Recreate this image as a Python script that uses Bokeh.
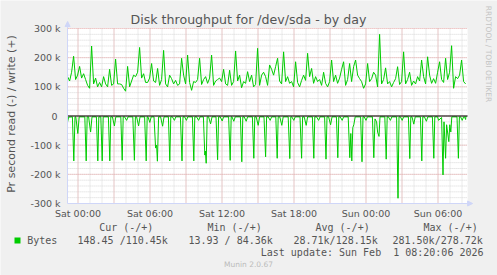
from bokeh.plotting import figure
from bokeh.models import Range1d, FixedTicker, Label, Arrow, NormalHead, BoxAnnotation
from bokeh.embed import file_html
from bokeh.resources import INLINE

# Time axis: minutes since Fri 2026-01-30 23:08 (graph window = 2000 min)
X_START, X_END = 0, 2000

# write (+) series, kB/s, one reading every 10 minutes
write_k = [
    135, 120, 150, 205, 125, 140, 170, 130, 145, 125, 105, 95, 240, 110, 130, 100, 115, 100, 135, 110,
    100, 160, 105, 110, 195, 110, 110, 108, 95, 85, 170, 100, 120, 140, 135, 150, 235, 130, 145, 115,
    115, 130, 180, 120, 115, 163, 105, 125, 225, 110, 100, 140, 128, 110, 122, 105, 110, 198, 140, 110,
    209, 115, 88, 118, 115, 125, 198, 108, 125, 135, 112, 130, 209, 105, 120, 125, 130, 118, 160, 110,
    105, 157, 105, 118, 223, 120, 140, 97, 118, 112, 152, 118, 140, 100, 108, 232, 105, 140, 150, 135,
    105, 175, 160, 140, 169, 198, 120, 110, 220, 118, 135, 112, 118, 100, 186, 115, 100, 122, 140, 122,
    215, 135, 163, 112, 135, 118, 125, 105, 150, 112, 100, 118, 192, 118, 140, 112, 130, 160, 186, 105,
    125, 180, 118, 169, 192, 140, 128, 118, 95, 110, 180, 118, 128, 150, 140, 100, 280, 110, 125, 165,
    110, 118, 100, 115, 128, 169, 108, 118, 220, 110, 125, 150, 105, 120, 110, 135, 120, 192, 135, 110,
    203, 140, 112, 128, 112, 150, 186, 125, 115, 198, 125, 150, 241, 95, 135, 128, 140, 192, 118, 110,
]
write_min = [10 * i for i in range(len(write_k))]

# read (-) series, kB/s (drawn negative), irregular readings
read_min = [
    0, 5, 24, 31, 37, 41, 51, 58, 86, 93, 98, 105, 115, 122, 144, 151, 156, 166, 173, 178,
    204, 211, 216, 224, 234, 241, 266, 273, 278, 285, 295, 302, 326, 334, 339, 345, 355, 362,
    385, 393, 398, 402, 411, 418, 432, 440, 445, 449, 455, 465, 475, 482, 504, 511, 516, 524,
    534, 541, 564, 572, 577, 585, 594, 601, 624, 631, 636, 645, 655, 662, 679, 686, 689, 693,
    698, 705, 715, 722, 742, 750, 755, 763, 773, 780, 805, 813, 818, 822, 831, 838, 864, 871,
    876, 883, 893, 900, 924, 931, 936, 943, 953, 960, 982, 990, 995, 1003, 1013, 1020, 1041,
    1048, 1053, 1061, 1071, 1078, 1103, 1111, 1116, 1121, 1131, 1138, 1162, 1170, 1175, 1183,
    1193, 1200, 1224, 1231, 1236, 1245, 1255, 1262, 1285, 1292, 1297, 1305, 1315, 1322, 1344,
    1351, 1356, 1363, 1373, 1380, 1403, 1411, 1416, 1421, 1426, 1431, 1438, 1465, 1472, 1477,
    1483, 1492, 1499, 1524, 1531, 1537, 1545, 1550, 1557, 1562, 1586, 1593, 1598, 1604, 1614,
    1621, 1645, 1652, 1657, 1664, 1673, 1680, 1704, 1711, 1716, 1722, 1731, 1738, 1764, 1771,
    1776, 1784, 1794, 1801, 1824, 1831, 1836, 1850, 1855, 1870, 1877, 1882, 1890, 1895, 1906,
    1911, 1916, 1921, 1947, 1954, 1959, 1965, 1973, 1980, 1985, 1990, 1992,
]
read_k = [
    -20, -4, -3, -154, -3, -3, -60, -3, -3, -154, -3, -3, -55, -3, -3, -154, -3, -3, -154, -3,
    -3, -154, -3, -3, -34, -3, -3, -152, -3, -3, -15, -3, -3, -152, -3, -3, -34, -3,
    -3, -154, -3, -3, -22, -3, -3, -110, -100, -155, -3, -3, -35, -3, -3, -154, -3, -3,
    -15, -3, -3, -154, -3, -3, -15, -3, -3, -154, -3, -3, -15, -3, -3, -134, -120, -162,
    -3, -3, -27, -3, -3, -150, -3, -3, -17, -3, -3, -152, -3, -3, -18, -3, -3, -157,
    -3, -3, -18, -3, -3, -145, -3, -3, -32, -3, -3, -140, -3, -3, -15, -3, -3,
    -145, -3, -3, -32, -3, -3, -146, -3, -3, -15, -3, -3, -145, -3, -3,
    -32, -3, -3, -145, -3, -3, -15, -3, -3, -148, -3, -3, -30, -3, -3,
    -143, -3, -3, -15, -3, -3, -143, -60, -154, -40, -30, -3, -3, -157, -3,
    -3, -15, -3, -3, -143, -10, -20, -55, -70, -3, -3, -148, -3, -3, -15,
    -3, -3, -282, -3, -3, -15, -3, -3, -146, -3, -3, -28, -3, -3, -154,
    -3, -3, -18, -3, -3, -145, -3, -3, -15, -5, -202, -20, -145, -30, -88,
    -30, -55, -3, -3, -145, -3, -3, -15, -3, -3, -12, -0.15,
]

x_tick_min = [52, 412, 772, 1132, 1492, 1852]
x_tick_labels = ["Sat 00:00", "Sat 06:00", "Sat 12:00", "Sat 18:00", "Sun 00:00", "Sun 06:00"]
y_ticks = [-300, -200, -100, 0, 100, 200, 300]
y_tick_labels = ["-300 k", "-200 k", "-100 k", "0\u00a0", "100 k", "200 k", "300 k"]

legend_head = ["Cur (-/+)", "Min (-/+)", "Avg (-/+)", "Max (-/+)"]
legend_vals = ["148.45 /110.45k", "13.93 / 84.36k", "28.71k/128.15k", "281.50k/278.72k"]

GREEN = "#00CC00"
AXIS = "#CFD6F8"
FONT = "#555555"
MINOR = "#d6d6d6"
MAJOR = "#eaaaaa"

# canvas geometry: 5 minutes per pixel, 600 k over 175 pixels
W, H = 497, 275
MIN_PER_PX = 5.0
PX_PER_K = 175 / 600
X0 = -335.5
Y_TOP = 396.0

p = figure(width=W, height=H, output_backend="svg", toolbar_location=None,
           x_range=Range1d(X0, X0 + W * MIN_PER_PX),
           y_range=Range1d(Y_TOP - H / PX_PER_K, Y_TOP),
           min_border=0, min_border_left=0, min_border_right=0,
           min_border_top=0, min_border_bottom=0,
           background_fill_color="#F0F0F0", border_fill_color="#F0F0F0",
           outline_line_color=None)
p.xgrid.visible = False
p.ygrid.visible = False

# white canvas of the graph area
p.add_layout(BoxAnnotation(left=X_START, right=X_END, bottom=-300, top=300,
                           fill_color="white", fill_alpha=1, line_color=None, level="underlay"))

# grid lines
minor_x = [52 + 60 * k for k in range(-1, 33) if X_START <= 52 + 60 * k <= X_END]
major_x = [52 + 180 * k for k in range(0, 11) if 52 + 180 * k <= X_END]
minor_y = [v for v in range(-280, 300, 20)]
major_y = [v for v in y_ticks if v != -300]
p.segment(x0=minor_x, x1=minor_x, y0=[-300] * len(minor_x), y1=[300] * len(minor_x),
          line_color=MINOR, line_dash="1 1", line_width=1)
p.segment(x0=[X_START] * len(minor_y), x1=[X_END] * len(minor_y), y0=minor_y, y1=minor_y,
          line_color=MINOR, line_dash="1 1", line_width=1)
p.segment(x0=major_x, x1=major_x, y0=[-300] * len(major_x), y1=[300] * len(major_x),
          line_color=MAJOR, line_dash="1 1", line_width=1)
p.segment(x0=[X_START] * len(major_y), x1=[X_END] * len(major_y), y0=major_y, y1=major_y,
          line_color=MAJOR, line_dash="1 1", line_width=1)

# data
p.line(write_min, write_k, color=GREEN, line_width=1)
p.line(read_min, read_k, color=GREEN, line_width=1)
p.segment(x0=[X_START], x1=[X_END], y0=[0], y1=[0], line_color="black", line_width=1)

# axes (fixed inside the canvas)
xa, ya = p.xaxis[0], p.yaxis[0]
xa.fixed_location = -300
xa.bounds = (X_START, X_END)
ya.fixed_location = X_START
ya.bounds = (-300, 300)
for ax in (xa, ya):
    ax.axis_line_color = AXIS
    ax.major_tick_line_color = None
    ax.minor_tick_line_color = None
    ax.major_tick_out = 0
    ax.major_tick_in = 0
    ax.minor_tick_out = 0
    ax.major_label_text_font = "DejaVu Sans"
    ax.major_label_text_font_size = "9.5px"
    ax.major_label_text_color = FONT
xa.ticker = FixedTicker(ticks=x_tick_min)
xa.major_label_overrides = dict(zip(x_tick_min, x_tick_labels))
xa.major_label_standoff = 4
ya.ticker = FixedTicker(ticks=y_ticks)
ya.major_label_overrides = dict(zip(y_ticks, y_tick_labels))
ya.major_label_standoff = 7

# axis arrows
p.add_layout(Arrow(end=NormalHead(size=5, fill_color=AXIS, line_color=AXIS),
                   x_start=X_START, y_start=300, x_end=X_START, y_end=324,
                   line_color=AXIS, line_width=1))
p.add_layout(Arrow(end=NormalHead(size=5, fill_color=AXIS, line_color=AXIS),
                   x_start=X_END, y_start=-300, x_end=X_END + 25, y_end=-300,
                   line_color=AXIS, line_width=1))


def px2x(px):
    return X0 + px * MIN_PER_PX


def py2y(py):
    return Y_TOP - py / PX_PER_K


def lab(text, px, py, size, font="DejaVu Sans", color=FONT, align="left", angle=0.0):
    p.add_layout(Label(x=px2x(px), y=py2y(py), text=text, text_font=font,
                       text_font_size=f"{size}px", text_color=color, text_align=align,
                       text_baseline="middle", angle=angle))


lab("Disk throughput for /dev/sda - by day", 248, 18.5, 12.6, align="center")
lab("Pr second read (-) / write (+)", 11, 113.5, 11, align="center", angle=1.5707963)
lab("RRDTOOL / TOBI OETIKER", 488, 53.5, 7.5, color="#c4c4c4", align="center", angle=-1.5707963)

mono = "DejaVu Sans Mono"
for txt, x0 in zip(legend_head, [98.7, 207, 315, 423]):
    lab(txt, x0, 226.7, 10, font=mono)
p.add_layout(BoxAnnotation(left=px2x(14), right=px2x(20), top=py2y(237), bottom=py2y(243),
                           fill_color=GREEN, fill_alpha=1, line_color=None))
lab("Bytes", 26.7, 240, 10, font=mono)
for txt, x0 in zip(legend_vals, [77, 188, 293, 392]):
    lab(txt, x0, 240, 10, font=mono)
lab("Last update: Sun Feb\u00a0 1 08:20:06 2026", 483, 251.7, 10, font=mono, align="right")
lab("Munin 2.0.67", 248, 264, 7.5, color="#bbbbbb", align="center")

open("out.html", "w").write(file_html(p, INLINE))
